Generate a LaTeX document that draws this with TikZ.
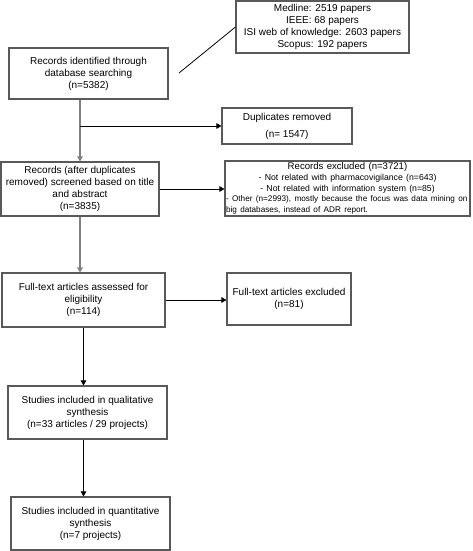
\documentclass[tikz,border=0pt]{standalone}
\usepackage{fontspec}
\setmainfont{Liberation Sans}
\usetikzlibrary{arrows.meta,calc}
\begin{document}
\begin{tikzpicture}[x=1pt,y=-1pt,
  box/.style={draw=black!65,line width=1.1pt,fill=white,inner sep=1pt,align=center,
    font=\fontsize{10}{12}\selectfont},
  gconn/.style={draw=black!50,line width=1.6pt},
  bconn/.style={draw=black,line width=0.8pt},
  tip/.style={-{Triangle[length=5pt,width=5.5pt]}}]
\useasboundingbox (0,0) rectangle (473,551);
\node[box,minimum width=173pt,minimum height=52pt] (src) at (322.5,27)
  {Medline: 2519 papers\\IEEE: 68 papers\\ISI web of knowledge: 2603 papers\\Scopus: 192 papers};
\node[box,minimum width=159pt,minimum height=51pt] (rec1) at (88.5,73.5)
  {Records identified through\\database searching\\(n=5382)};
\node[box,minimum width=130pt,minimum height=36pt] (dup) at (287,126)
  {Duplicates removed\\[5pt](n= 1547)};
\node[box,minimum width=158pt,minimum height=54pt] (rec2) at (80,189)
  {Records (after duplicates\\removed) screened based on title\\and abstract\\(n=3835)};
\node[box,minimum width=245pt,minimum height=55pt,text width=243pt] (excl) at (347.5,188.5)
  {{\centering\fontsize{9.6}{10.7}\selectfont Records excluded (n=3721)\\
   \fontsize{8.7}{10.7}\selectfont - Not related with pharmacovigilance (n=643)\\- Not related with information system (n=85)\par}%
   {\fontsize{8.2}{10.7}\selectfont\raggedright \mbox{- Other (n=2993), mostly because the focus was data mining on}\\big databases, instead of ADR report.\par}};
\node[box,minimum width=163pt,minimum height=54pt] (full) at (83.5,300)
  {Full-text articles assessed for\\eligibility\\(n=114)};
\node[box,minimum width=124pt,minimum height=52pt] (fexcl) at (289,299)
  {Full-text articles excluded\\(n=81)};
\node[box,minimum width=159pt,minimum height=53pt] (qual) at (87.5,412.5)
  {Studies included in qualitative\\synthesis\\(n=33 articles / 29 projects)};
\node[box,minimum width=159pt,minimum height=53pt] (quant) at (90.5,523.5)
  {Studies included in quantitative\\synthesis\\(n=7 projects)};
\coordinate (d) at (179,73);
\coordinate (q1) at (qual.south -| full.south);
\draw[bconn] (d) -- (src.west);
\draw[gconn,tip] (rec1.south -| rec2.north) -- (rec2.north);
\draw[bconn,tip] (rec2.north |- dup.west) -- (dup.west);
\draw[bconn,tip] (rec2.east) -- (rec2.east -| excl.west);
\draw[gconn,tip] (rec2.south) -- (rec2.south |- full.north);
\draw[bconn,tip] (full.east) -- (full.east -| fexcl.west);
\draw[bconn,tip] (full.south) -- (full.south |- qual.north);
\draw[bconn,tip] (q1) -- (q1 |- quant.north);
\end{tikzpicture}
\end{document}
